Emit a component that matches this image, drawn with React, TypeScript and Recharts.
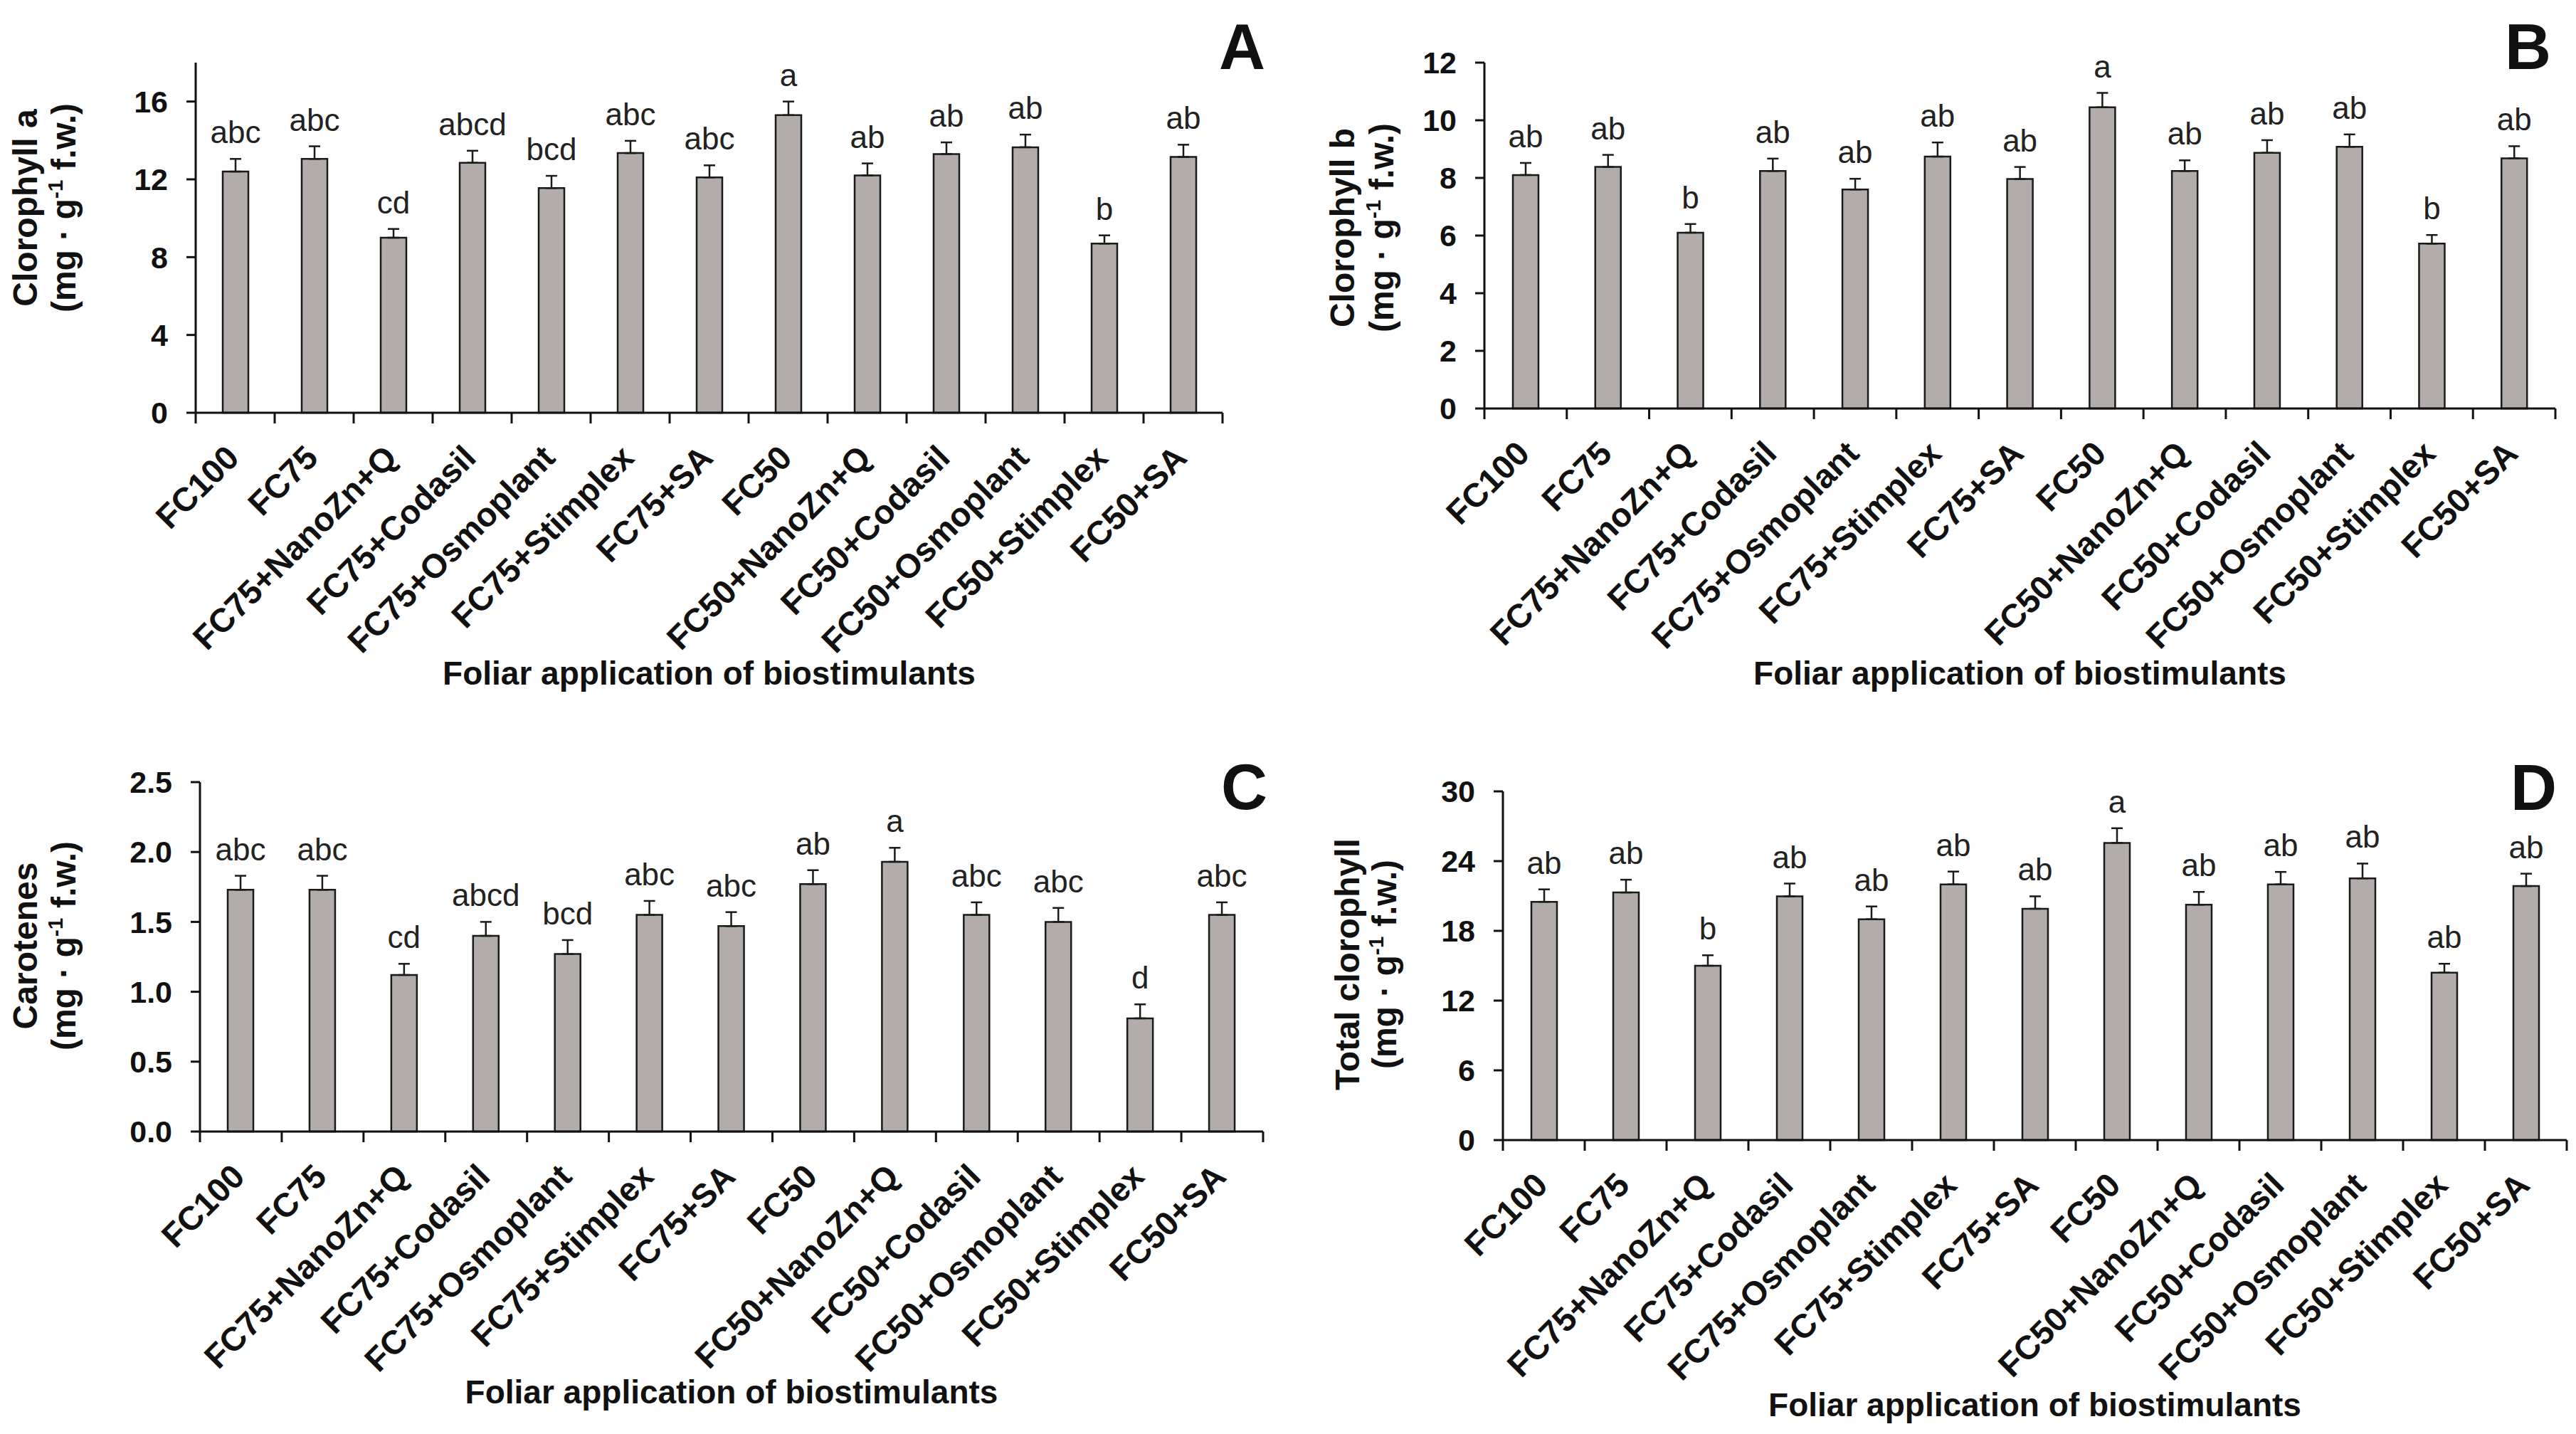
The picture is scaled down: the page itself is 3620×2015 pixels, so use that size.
import React from 'react';
import { BarChart, Bar, XAxis, YAxis, ErrorBar, LabelList } from 'recharts';

const FONT = '"Liberation Sans", Arial, sans-serif';

const treatments = [
  'FC100',
  'FC75',
  'FC75+NanoZn+Q',
  'FC75+Codasil',
  'FC75+Osmoplant',
  'FC75+Stimplex',
  'FC75+SA',
  'FC50',
  'FC50+NanoZn+Q',
  'FC50+Codasil',
  'FC50+Osmoplant',
  'FC50+Stimplex',
  'FC50+SA',
];

// A - chlorophyll a
const chlA = [12.4, 13.05, 9.0, 12.85, 11.55, 13.35, 12.1, 15.3, 12.2, 13.3, 13.65, 8.7, 13.15];
const chlAErr = [0.65, 0.65, 0.45, 0.62, 0.63, 0.63, 0.62, 0.7, 0.62, 0.6, 0.65, 0.42, 0.63];
const chlALetters = ['abc', 'abc', 'cd', 'abcd', 'bcd', 'abc', 'abc', 'a', 'ab', 'ab', 'ab', 'b', 'ab'];
const chlATicks = [0, 4, 8, 12, 16];

// B - chlorophyll b
const chlB = [8.1, 8.38, 6.1, 8.24, 7.6, 8.74, 7.96, 10.45, 8.24, 8.87, 9.08, 5.72, 8.68];
const chlBErr = [0.42, 0.42, 0.3, 0.43, 0.37, 0.49, 0.42, 0.5, 0.37, 0.44, 0.43, 0.3, 0.42];
const chlBLetters = ['ab', 'ab', 'b', 'ab', 'ab', 'ab', 'ab', 'a', 'ab', 'ab', 'ab', 'b', 'ab'];
const chlBTicks = [0, 2, 4, 6, 8, 10, 12];

// C - carotenes
const carot = [1.73, 1.73, 1.12, 1.4, 1.27, 1.55, 1.47, 1.77, 1.93, 1.55, 1.5, 0.81, 1.55];
const carotErr = [0.1, 0.1, 0.08, 0.1, 0.1, 0.1, 0.1, 0.1, 0.1, 0.09, 0.1, 0.1, 0.09];
const carotLetters = ['abc', 'abc', 'cd', 'abcd', 'bcd', 'abc', 'abc', 'ab', 'a', 'abc', 'abc', 'd', 'abc'];
const carotTicks = [0, 0.5, 1.0, 1.5, 2.0, 2.5];

// D - total chlorophyll
const totalChl = [20.5, 21.3, 15.0, 20.97, 19.0, 22.0, 19.9, 25.56, 20.25, 22.0, 22.52, 14.4, 21.85];
const totalChlErr = [1.07, 1.1, 0.9, 1.1, 1.1, 1.1, 1.07, 1.27, 1.1, 1.07, 1.27, 0.77, 1.07];
const totalChlLetters = ['ab', 'ab', 'b', 'ab', 'ab', 'ab', 'ab', 'a', 'ab', 'ab', 'ab', 'ab', 'ab'];
const totalChlTicks = [0, 6, 12, 18, 24, 30];

const Y_AXIS_W = 120;
const X_AXIS_H = 20;

const panels = [
  {
    key: 'A', values: chlA, errs: chlAErr, letters: chlALetters, ticks: chlATicks, max: 18, fmt: (v: number) => `${v}`,
    left: 0, top: 0, w: 1810, h: 1000, x0: 275, x1: 1718, y0: 88, y1: 580,
    yLabel: 'Clorophyll a', lx1: 52, lx2: 106, ly: 292, titleY: 962, letterX: 1778, letterY: 97,
  },
  {
    key: 'B', values: chlB, errs: chlBErr, letters: chlBLetters, ticks: chlBTicks, max: 12, fmt: (v: number) => `${v}`,
    left: 1810, top: 0, w: 1810, h: 1000, x0: 276, x1: 1781, y0: 88, y1: 574,
    yLabel: 'Clorophyll b', lx1: 93, lx2: 148, ly: 320, titleY: 962, letterX: 1775, letterY: 97,
  },
  {
    key: 'C', values: carot, errs: carotErr, letters: carotLetters, ticks: carotTicks, max: 2.5, fmt: (v: number) => v.toFixed(1),
    left: 0, top: 1000, w: 1810, h: 1015, x0: 281, x1: 1775, y0: 99, y1: 590,
    yLabel: 'Carotenes', lx1: 52, lx2: 106, ly: 329, titleY: 972, letterX: 1781, letterY: 137,
  },
  {
    key: 'D', values: totalChl, errs: totalChlErr, letters: totalChlLetters, ticks: totalChlTicks, max: 30, fmt: (v: number) => `${v}`,
    left: 1810, top: 1000, w: 1810, h: 1015, x0: 302, x1: 1797, y0: 112, y1: 602,
    yLabel: 'Total clorophyll', lx1: 100, lx2: 152, ly: 355, titleY: 990, letterX: 1783, letterY: 138,
  },
];

function makeTick(band: number) {
  return function CatTick(props: any) {
    const { x, y, payload, index } = props;
    const last = index === treatments.length - 1;
    const tx = x + 8;
    const ty = y + 66;
    return (
      <g>
        <line x1={x - band / 2} x2={x - band / 2} y1={y} y2={y + 15} stroke="#111" strokeWidth={3} />
        {last && <line x1={x + band / 2} x2={x + band / 2} y1={y} y2={y + 15} stroke="#111" strokeWidth={3} />}
        <text
          x={tx}
          y={ty}
          transform={`rotate(-45 ${tx} ${ty})`}
          textAnchor="end"
          fontSize={47}
          fontWeight="bold"
          fontFamily={FONT}
          fill="#111"
        >
          {payload.value}
        </text>
      </g>
    );
  };
}

function makeLetter(values: number[], errs: number[], letters: string[]) {
  return function Letter(props: any) {
    const vb = props.viewBox || {};
    const x = props.x ?? vb.x;
    const y = props.y ?? vb.y;
    const width = props.width ?? vb.width;
    const height = props.height ?? vb.height;
    const i = props.value;
    if (i == null || x == null) return null;
    const pxPerUnit = Math.abs(height) / values[i];
    const ty = y - errs[i] * pxPerUnit - 22;
    return (
      <text x={x + width / 2} y={ty} textAnchor="middle" fontSize={44} fontFamily={FONT} fill="#222">
        {letters[i]}
      </text>
    );
  };
}

function Panel({ p }: { p: (typeof panels)[number] }) {
  const data = treatments.map((name, i) => ({
    name,
    value: p.values[i],
    err: [0, p.errs[i]],
    idx: i,
  }));
  const band = (p.x1 - p.x0) / treatments.length;
  return (
    <div style={{ position: 'absolute', left: p.left, top: p.top, width: p.w, height: p.h }}>
      <BarChart
        width={p.w}
        height={p.h}
        data={data}
        margin={{
          top: p.y0,
          right: p.w - p.x1,
          left: p.x0 - Y_AXIS_W,
          bottom: p.h - p.y1 - X_AXIS_H,
        }}
        style={{ fontFamily: FONT }}
      >
        <XAxis
          dataKey="name"
          interval={0}
          height={X_AXIS_H}
          tickSize={0}
          tickMargin={0}
          tickLine={false}
          axisLine={{ stroke: '#111', strokeWidth: 3 }}
          tick={makeTick(band)}
        />
        <YAxis
          width={Y_AXIS_W}
          domain={[0, p.max]}
          ticks={p.ticks}
          tickFormatter={p.fmt}
          tickSize={13}
          tickMargin={26}
          axisLine={{ stroke: '#111', strokeWidth: 3 }}
          tickLine={{ stroke: '#111', strokeWidth: 3 }}
          tick={{ fontSize: 43, fontWeight: 'bold', fill: '#111', fontFamily: FONT }}
        />
        <Bar dataKey="value" fill="#b2adaa" stroke="#1a1a1a" strokeWidth={2.5} barSize={36} isAnimationActive={false}>
          <ErrorBar dataKey="err" width={8} stroke="#1a1a1a" strokeWidth={2.5} isAnimationActive={false} />
          <LabelList dataKey="idx" content={makeLetter(p.values, p.errs, p.letters)} />
        </Bar>
      </BarChart>
    </div>
  );
}

function Overlay({ p }: { p: (typeof panels)[number] }) {
  const cx = (p.x0 + p.x1) / 2;
  return (
    <g transform={`translate(${p.left} ${p.top})`} fontFamily={FONT} fill="#111">
      <text
        x={p.lx1}
        y={p.ly}
        transform={`rotate(-90 ${p.lx1} ${p.ly})`}
        textAnchor="middle"
        fontSize={48}
        fontWeight="bold"
      >
        {p.yLabel}
      </text>
      <text
        x={p.lx2}
        y={p.ly}
        transform={`rotate(-90 ${p.lx2} ${p.ly})`}
        textAnchor="middle"
        fontSize={48}
        fontWeight="bold"
      >
        (mg · g
        <tspan fontSize={30} dy={-18}>-1</tspan>
        <tspan dy={18}> f.w.)</tspan>
      </text>
      <text x={cx} y={p.titleY} textAnchor="middle" fontSize={46} fontWeight="bold">
        Foliar application of biostimulants
      </text>
      <text x={p.letterX} y={p.letterY} textAnchor="end" fontSize={90} fontWeight="bold">
        {p.key}
      </text>
    </g>
  );
}

export default function App() {
  return (
    <div style={{ position: 'absolute', left: 0, top: 0, width: 3620, height: 2015, background: '#fff' }}>
      {panels.map((p) => (
        <Panel key={p.key} p={p} />
      ))}
      <svg
        width={3620}
        height={2015}
        style={{ position: 'absolute', left: 0, top: 0, pointerEvents: 'none' }}
      >
        {panels.map((p) => (
          <Overlay key={p.key} p={p} />
        ))}
      </svg>
    </div>
  );
}
